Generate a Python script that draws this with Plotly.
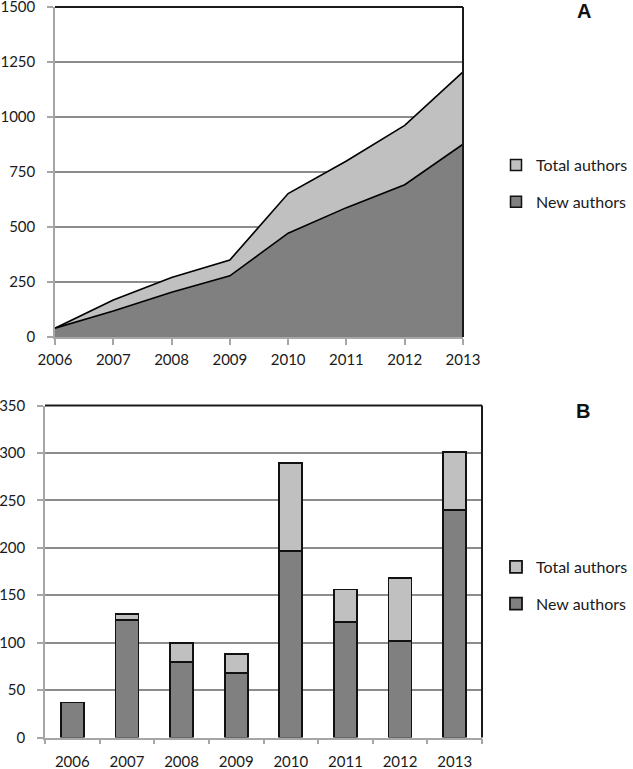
import plotly.graph_objects as go

years = [2006, 2007, 2008, 2009, 2010, 2011, 2012, 2013]
year_labels = [str(y) for y in years]

# Panel A: cumulative
cum_total = [40, 168, 270, 350, 652, 800, 962, 1205]
cum_new = [40, 118, 203, 278, 472, 588, 692, 876]

# Panel B: per year
bar_new = [37, 124, 80, 68, 197, 122, 102, 240]
bar_total = [37, 130, 100, 88, 289, 156, 168, 301]
bar_extra = [t - n for t, n in zip(bar_total, bar_new)]

DARK = "#808080"
LIGHT = "#c0c0c0"
AXIS = "#a6a6a6"
GRID = "#8c8c8c"
FONT = dict(family="Lato", size=16, color="#1a1a1a")
TICKFONT = dict(family="Lato", size=15, color="#1a1a1a")

W, H = 633, 769

fig = go.Figure()

# Panel A areas
fig.add_trace(go.Scatter(x=years, y=cum_total, mode="lines", fill="tozeroy",
                         fillcolor=LIGHT, line=dict(color="black", width=1.6),
                         showlegend=False, xaxis="x", yaxis="y", hoverinfo="skip"))
fig.add_trace(go.Scatter(x=years, y=cum_new, mode="lines", fill="tozeroy",
                         fillcolor=DARK, line=dict(color="black", width=1.6),
                         showlegend=False, xaxis="x", yaxis="y", hoverinfo="skip"))
# Panel A legend entries (square swatches)
fig.add_trace(go.Scatter(x=[None], y=[None], mode="markers", name="Total authors",
                         marker=dict(symbol="square", size=11, color=LIGHT,
                                     line=dict(color="#111", width=1.5)),
                         legend="legend", legendgroup="a1", legendrank=1,
                         xaxis="x", yaxis="y"))
fig.add_trace(go.Scatter(x=[None], y=[None], mode="markers", name="New authors",
                         marker=dict(symbol="square", size=11, color=DARK,
                                     line=dict(color="#111", width=1.5)),
                         legend="legend", legendgroup="a2", legendrank=2,
                         xaxis="x", yaxis="y"))

# Panel B stacked bars
fig.add_trace(go.Bar(x=year_labels, y=bar_new, name="New authors",
                     marker=dict(color=DARK, line=dict(color="#111", width=1.8)),
                     legend="legend2", legendgroup="b2", legendrank=2,
                     xaxis="x2", yaxis="y2"))
fig.add_trace(go.Bar(x=year_labels, y=bar_extra, name="Total authors",
                     marker=dict(color=LIGHT, line=dict(color="#111", width=1.8)),
                     legend="legend2", legendgroup="b1", legendrank=1,
                     xaxis="x2", yaxis="y2"))

def px_x(p):
    return p / W

def px_y(p):
    return 1 - p / H

common_axis = dict(showline=True, linecolor=AXIS, linewidth=1.5, ticks="outside",
                   tickcolor=AXIS, tickwidth=1.5, zeroline=False, automargin=False,
                   ticklabeloverflow="allow", tickfont=TICKFONT)

fig.update_layout(
    width=W, height=H,
    margin=dict(l=0, r=0, t=0, b=0, autoexpand=False),
    paper_bgcolor="white", plot_bgcolor="white",
    font=FONT,
    barmode="stack", bargap=0.58,
    xaxis=dict(domain=[px_x(55), px_x(463)], range=[2006, 2013], tickmode="array",
               tickvals=years, ticktext=year_labels, showgrid=False,
               ticklen=6, ticklabelstandoff=2, anchor="y", **common_axis),
    yaxis=dict(domain=[px_y(337), px_y(7)], range=[0, 1500], dtick=250,
               showgrid=True, gridcolor=GRID, gridwidth=1.5,
               ticklen=6, ticklabelstandoff=9, anchor="x", **common_axis),
    xaxis2=dict(domain=[px_x(45), px_x(482)], type="category", tickson="boundaries",
                showgrid=False, ticklen=5, ticklabelstandoff=10, anchor="y2",
                **common_axis),
    yaxis2=dict(domain=[px_y(737.5), px_y(405.5)], range=[0, 350], dtick=50,
                showgrid=True, gridcolor=GRID, gridwidth=1.5,
                ticklen=6, ticklabelstandoff=9, anchor="x2", **common_axis),
    legend=dict(x=1, y=px_y(148), xanchor="right", yanchor="top",
                bgcolor="rgba(0,0,0,0)", tracegroupgap=13, traceorder="grouped",
                font=FONT),
    legend2=dict(x=1, y=px_y(550), xanchor="right", yanchor="top",
                 bgcolor="rgba(0,0,0,0)", tracegroupgap=13, traceorder="grouped",
                 font=FONT),
    shapes=[
        dict(type="line", xref="x domain", yref="y domain", x0=0, x1=1, y0=1, y1=1,
             line=dict(color="#1a1a1a", width=2)),
        dict(type="line", xref="x domain", yref="y domain", x0=1, x1=1, y0=0, y1=1,
             line=dict(color="#1a1a1a", width=2)),
        dict(type="line", xref="x2 domain", yref="y2 domain", x0=0, x1=1, y0=1, y1=1,
             line=dict(color="#1a1a1a", width=2)),
        dict(type="line", xref="x2 domain", yref="y2 domain", x0=1, x1=1, y0=0, y1=1,
             line=dict(color="#1a1a1a", width=2)),
    ],
    annotations=[
        dict(text="<b>A</b>", xref="paper", yref="paper", x=px_x(584), y=px_y(11),
             showarrow=False, font=dict(family="Liberation Sans", size=20, color="#111"),
             xanchor="center", yanchor="middle"),
        dict(text="<b>B</b>", xref="paper", yref="paper", x=px_x(583), y=px_y(411),
             showarrow=False, font=dict(family="Liberation Sans", size=20, color="#111"),
             xanchor="center", yanchor="middle"),
    ],
)

fig.write_html("out.html", config={"displayModeBar": False},
               post_script="document.body.style.margin='0';document.body.style.padding='0';")
